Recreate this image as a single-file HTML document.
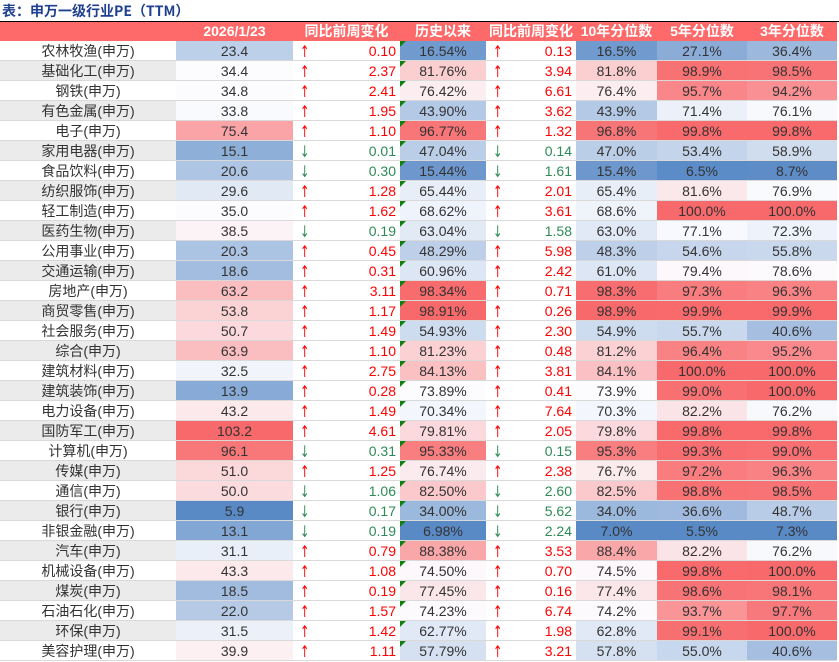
<!DOCTYPE html>
<html><head><meta charset="utf-8">
<style>
body{margin:0;width:839px;height:662px;background:#fff;font-family:"Liberation Sans","Noto Sans CJK SC",sans-serif;overflow:hidden;position:relative}
#title{position:absolute;left:2px;top:1px;font-size:14px;font-weight:bold;color:#1f3f8f;font-family:"Noto Sans CJK SC","Liberation Sans",sans-serif}
#topline{position:absolute;left:0;top:21px;width:839px;height:1px;background:#000}
.c{position:absolute;box-sizing:border-box;font-size:14px;line-height:20px;color:#333;text-align:center;white-space:nowrap;font-family:"Liberation Sans","Noto Sans CJK SC",sans-serif}
.h{background:#fe6a6a;color:#fff;font-weight:bold;line-height:19px;font-size:14px}
.grid{border-bottom:1px solid #d9d9d9}
.tri{position:absolute;left:0;top:0;width:0;height:0;border-top:6px solid #108010;border-right:6px solid transparent}
.ar{position:absolute;left:5px;top:1px;font-size:16px;line-height:20px;font-family:"DejaVu Sans",sans-serif;transform:scaleX(0.7)}
</style></head><body>
<div id="title">表：申万一级行业PE（TTM）</div>
<div id="topline"></div>
<div id="tbl"></div>
<script>
const names=["农林牧渔","基础化工","钢铁","有色金属","电子","家用电器","食品饮料","纺织服饰","轻工制造","医药生物","公用事业","交通运输","房地产","商贸零售","社会服务","综合","建筑材料","建筑装饰","电力设备","国防军工","计算机","传媒","通信","银行","非银金融","汽车","机械设备","煤炭","石油石化","环保","美容护理"];
const pe=[23.4,34.4,34.8,33.8,75.4,15.1,20.6,29.6,35.0,38.5,20.3,18.6,63.2,53.8,50.7,63.9,32.5,13.9,43.2,103.2,96.1,51.0,50.0,5.9,13.1,31.1,43.3,18.5,22.0,31.5,39.9];
const chg1=[0.10,2.37,2.41,1.95,1.10,-0.01,-0.30,1.28,1.62,-0.19,0.45,0.31,3.11,1.17,1.49,1.10,2.75,0.28,1.49,4.61,-0.31,1.25,-1.06,-0.17,-0.19,0.79,1.08,0.19,1.57,1.42,1.11];
const hist=[16.54,81.76,76.42,43.90,96.77,47.04,15.44,65.44,68.62,63.04,48.29,60.96,98.34,98.91,54.93,81.23,84.13,73.89,70.34,79.81,95.33,76.74,82.50,34.00,6.98,88.38,74.50,77.45,74.23,62.77,57.79];
const chg2=[0.13,3.94,6.61,3.62,1.32,-0.14,-1.61,2.01,3.61,-1.58,5.98,2.42,0.71,0.26,2.30,0.48,3.81,0.41,7.64,2.05,-0.15,2.38,-2.60,-5.62,-2.24,3.53,0.70,0.16,6.74,1.98,3.21];
const p10=[16.5,81.8,76.4,43.9,96.8,47.0,15.4,65.4,68.6,63.0,48.3,61.0,98.3,98.9,54.9,81.2,84.1,73.9,70.3,79.8,95.3,76.7,82.5,34.0,7.0,88.4,74.5,77.4,74.2,62.8,57.8];
const p5=[27.1,98.9,95.7,71.4,99.8,53.4,6.5,81.6,100.0,77.1,54.6,79.4,97.3,99.9,55.7,96.4,100.0,99.0,82.2,99.8,99.3,97.2,98.8,36.6,5.5,82.2,99.8,98.6,93.7,99.1,55.0];
const p3=[36.4,98.5,94.2,76.1,99.8,58.9,8.7,76.9,100.0,72.3,55.8,78.6,96.3,99.9,40.6,95.2,100.0,100.0,76.2,99.8,99.0,96.3,98.5,48.7,7.3,76.2,100.0,98.1,97.7,100.0,40.6];
const headers=["","2026/1/23","同比前周变化","历史以来","同比前周变化","10年分位数","5年分位数","3年分位数"];
const xs=[0,176,293,400,486,576,657,747,837];
const TOP=41,RH=20;
const tbl=document.getElementById('tbl');
function median(arr){const s=[...arr].sort((a,b)=>a-b);const n=s.length;return n%2?s[(n-1)/2]:(s[n/2-1]+s[n/2])/2;}
function mean(arr){return arr.reduce((a,b)=>a+b,0)/arr.length;}
function scale(arr,md){const mn=Math.min(...arr),mx=Math.max(...arr);
return v=>{const R=[248,105,107],W=[252,252,255],B=[90,138,198];let c;
if(v>=md){const t=mx===md?0:(v-md)/(mx-md);c=W.map((w,i)=>Math.round(w+(R[i]-w)*t));}
else{const t=md===mn?0:(md-v)/(md-mn);c=W.map((w,i)=>Math.round(w+(B[i]-w)*t));}
return `rgb(${c[0]},${c[1]},${c[2]})`;};}
function cell(x0,x1,y,h,cls,name){const d=document.createElement('div');d.className='c '+cls;d.style.left=x0+'px';d.style.top=y+'px';d.style.width=(x1-x0)+'px';d.style.height=h+'px';


tbl.appendChild(d);return d;}
headers.forEach((t,i)=>{const d=cell(xs[i],xs[i+1],22,19,'h','header-'+i);d.textContent=t;});
const sPe=scale(pe,median(pe)),sH=scale(hist,median(hist)),s10=scale(p10,median(p10)),s5=scale(p5,mean(p5)),s3=scale(p3,mean(p3));
function chgCell(x0,x1,y,v,name){const d=cell(x0,x1,y,RH,'grid',name);d.style.background='#fff';const up=v>=0;const col=up?'#ff0000':'#2e8b57';
d.innerHTML=`<span class="ar" style="color:${col}">${up?'↑':'↓'}</span><span style="position:absolute;right:4px;color:${col}">${Math.abs(v).toFixed(2)}</span>`;}
names.forEach((n,r)=>{const y=TOP+r*RH;
let d=cell(xs[0],xs[1],y,RH,'grid','industry-name');d.style.background=r%2?'#ebebeb':'#fff';d.textContent=n+'(申万)';
d=cell(xs[1],xs[2],y,RH,'grid','pe-value');d.style.background=sPe(pe[r]);d.textContent=pe[r].toFixed(1);
chgCell(xs[2],xs[3],y,chg1[r],'pe-weekly-change');
d=cell(xs[3],xs[4],y,RH,'grid','hist-percentile');d.style.background=sH(hist[r]);d.innerHTML='<span class="tri"></span>'+hist[r].toFixed(2)+'%';
chgCell(xs[4],xs[5],y,chg2[r],'pct-weekly-change');
d=cell(xs[5],xs[6],y,RH,'grid','pct-10y');d.style.background=s10(p10[r]);d.textContent=p10[r].toFixed(1)+'%';
d=cell(xs[6],xs[7],y,RH,'grid','pct-5y');d.style.background=s5(p5[r]);d.textContent=p5[r].toFixed(1)+'%';
d=cell(xs[7],xs[8],y,RH,'grid','pct-3y');d.style.background=s3(p3[r]);d.textContent=p3[r].toFixed(1)+'%';
});
</script>
</body></html>
